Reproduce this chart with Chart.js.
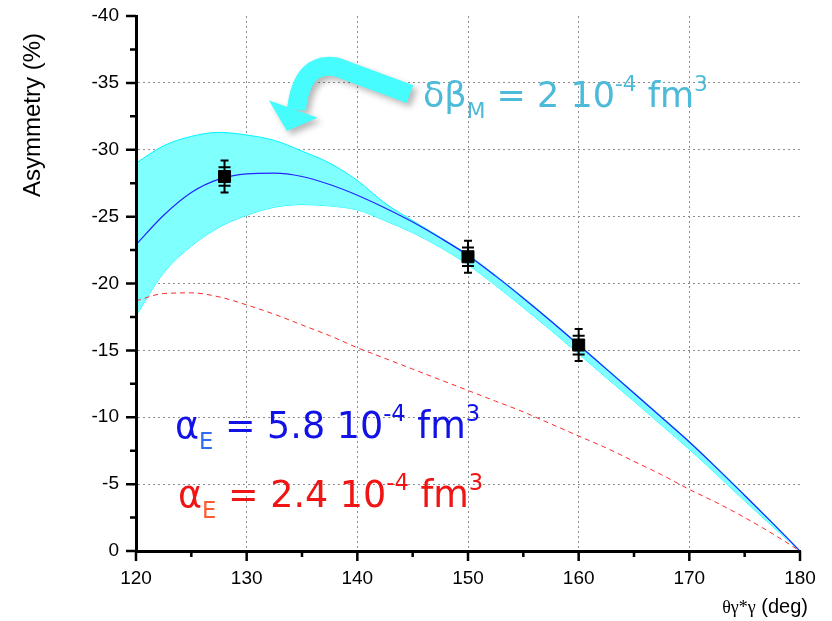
<!DOCTYPE html>
<html>
<head>
<meta charset="utf-8">
<script src="https://cdn.jsdelivr.net/npm/chart.js@4.4.1/dist/chart.umd.min.js"></script>
<style>
  html, body { margin: 0; padding: 0; background: #fff; }
</style>
</head>
<body>
<canvas id="chart" width="832" height="621"></canvas>
<script>
// curve abscissa (deg)
const angles = [120, 122.5, 125, 127.5, 130, 132.5, 135, 137.5, 140, 142.5, 145, 147.5,
  150, 152.5, 155, 157.5, 160, 162.5, 165, 167.5, 170, 172.5, 175, 177.5, 180]

// alpha_E = 5.8 fit
const fitHigh = [-22.9, -25.1, -26.8, -27.8, -28.2, -28.25, -28.0, -27.4, -26.6, -25.65, -24.6, -23.4,
  -22.1, -20.55, -18.9, -17.18, -15.4, -13.6, -11.8, -9.98, -8.15, -6.18, -4.15, -2.1, 0]

// alpha_E = 2.4 fit
const fitLow = [-18.7, -19.25, -19.3, -19.0, -18.4, -17.7, -16.9, -16.1, -15.2, -14.4, -13.6, -12.8,
  -12.0, -11.2, -10.4, -9.5, -8.6, -7.7, -6.7, -5.7, -4.6, -3.6, -2.5, -1.3, 0]

// delta beta_M band
const bandUpper = [-29.0, -30.3, -31.0, -31.3, -31.1, -30.7, -29.9, -29.0, -27.7, -26.0, -24.7, -23.45,
  -22.15, -20.6, -18.95, -17.23, -15.45, -13.65, -11.85, -10.03, -8.2, -6.23, -4.2, -2.15, 0]
const bandLower = [-17.6, -20.8, -22.8, -24.2, -25.1, -25.7, -25.9, -25.8, -25.5, -24.7, -23.8, -22.7,
  -21.4, -19.85, -18.2, -16.5, -14.75, -12.95, -11.2, -9.4, -7.6, -5.7, -3.75, -1.85, 0]

// measured points
const dataAngles = [128, 150, 160]
const dataAsym = [-28.0, -22.0, -15.4]
const statErr = [0.7, 0.7, 0.7]
const totalErr = [1.2, 1.2, 1.2]

const xRange = [120, 180]
const yRange = [-40, 0]

const toPoints = (xs, ys) => xs.map((x, i) => ({ x, y: ys[i] }))

const gridColor = (edges) => (c) =>
  c.tick && edges.includes(c.tick.value) ? 'rgba(0,0,0,0)' : '#8c8c8c'

const tickFont = { family: 'Liberation Sans', size: 19 }

// rich text: parts of { t, color, mode: 'sub' | 'sup' }
function drawRich(ctx, x, y, parts, size, family) {
  let cx = x
  parts.forEach((p) => {
    const s = p.mode ? size * 0.62 : size
    const dy = p.mode === 'sub' ? size * 0.3 : p.mode === 'sup' ? -size * 0.45 : 0
    ctx.font = `${s}px ${family}`
    ctx.fillStyle = p.color
    ctx.fillText(p.t, cx, y + dy)
    cx += ctx.measureText(p.t).width
  })
}

const decorations = {
  id: 'decorations',
  afterDraw(chart) {
    const { ctx, scales: { x, y } } = chart
    const P = (a, b) => [x.getPixelForValue(a), y.getPixelForValue(b)]
    ctx.save()

    // axis tick marks (major + minor)
    ctx.strokeStyle = '#000'
    ctx.lineWidth = 2.5
    ctx.beginPath()
    for (let v = xRange[0]; v <= xRange[1]; v += 5) {
      const px = x.getPixelForValue(v)
      const len = v % 10 === 0 ? 10 : 6
      ctx.moveTo(px, y.bottom)
      ctx.lineTo(px, y.bottom + len)
    }
    for (let v = yRange[0]; v <= yRange[1]; v += 2.5) {
      const py = y.getPixelForValue(v)
      const len = v % 5 === 0 ? 10 : 6
      ctx.moveTo(x.left, py)
      ctx.lineTo(x.left - len, py)
    }
    ctx.stroke()

    // error bars
    ctx.lineWidth = 2
    dataAngles.forEach((a, i) => {
      const px = x.getPixelForValue(a)
      const yt = y.getPixelForValue(dataAsym[i] - totalErr[i])
      const yb = y.getPixelForValue(dataAsym[i] + totalErr[i])
      const st = y.getPixelForValue(dataAsym[i] - statErr[i])
      const sb = y.getPixelForValue(dataAsym[i] + statErr[i])
      ctx.beginPath()
      ctx.moveTo(px, yt); ctx.lineTo(px, yb)
      ctx.moveTo(px - 4, yt); ctx.lineTo(px + 4, yt)
      ctx.moveTo(px - 4, yb); ctx.lineTo(px + 4, yb)
      ctx.moveTo(px - 6, st); ctx.lineTo(px + 6, st)
      ctx.moveTo(px - 6, sb); ctx.lineTo(px + 6, sb)
      ctx.stroke()
    })

    // curved arrow
    const shaft = [P(144.76, -34.16), P(138.16, -36.18), P(135.0, -36.7), P(134.5, -33.0)]
    const head = [P(132.0, -33.7), P(133.64, -31.4), P(136.4, -32.4)]
    const arrow = (color) => {
      ctx.strokeStyle = color
      ctx.fillStyle = color
      ctx.lineWidth = 19
      ctx.lineJoin = 'round'
      ctx.beginPath()
      ctx.moveTo(...shaft[0])
      ctx.lineTo(...shaft[1])
      ctx.quadraticCurveTo(...shaft[2], ...shaft[3])
      ctx.stroke()
      ctx.beginPath()
      ctx.moveTo(...head[0]); ctx.lineTo(...head[1]); ctx.lineTo(...head[2])
      ctx.closePath()
      ctx.fill()
    }
    ctx.save()
    ctx.translate(4, 4)
    ctx.filter = 'blur(3px)'
    arrow('rgba(0,0,0,0.28)')
    ctx.restore()
    arrow('#46fcfc')

    // annotations
    const fam = "'DejaVu Sans'"
    ctx.textBaseline = 'alphabetic'
    ctx.textAlign = 'left'
    const cyan = '#4cbad8'
    drawRich(ctx, ...P(145.93, -33.18), [
      { t: 'δβ', color: cyan }, { t: 'M', color: cyan, mode: 'sub' },
      { t: ' = 2 10', color: cyan }, { t: '-4', color: cyan, mode: 'sup' },
      { t: ' fm', color: cyan }, { t: '3', color: cyan, mode: 'sup' },
    ], 35, fam)
    const blue = '#1212e6'
    drawRich(ctx, ...P(123.52, -8.46), [
      { t: 'α', color: blue }, { t: 'E', color: '#2f6cf2', mode: 'sub' },
      { t: ' = 5.8 10', color: blue }, { t: '-4', color: blue, mode: 'sup' },
      { t: ' fm', color: blue }, { t: '3', color: blue, mode: 'sup' },
    ], 36.5, fam)
    const red = '#f01414'
    drawRich(ctx, ...P(123.8, -3.3), [
      { t: 'α', color: red }, { t: 'E', color: '#ff5a30', mode: 'sub' },
      { t: ' = 2.4 10', color: red }, { t: '-4', color: red, mode: 'sup' },
      { t: ' fm', color: red }, { t: '3', color: red, mode: 'sup' },
    ], 36.5, fam)

    // axis titles
    ctx.fillStyle = '#000'
    ctx.textAlign = 'right'
    ctx.font = "20px 'Liberation Sans'"
    ctx.fillText(' (deg)', 808, 613)
    const w = ctx.measureText(' (deg)').width
    ctx.font = "18px 'Liberation Serif'"
    ctx.fillText('θγ*γ', 808 - w, 613)

    ctx.translate(40, 115)
    ctx.rotate(-Math.PI / 2)
    ctx.textAlign = 'center'
    ctx.font = "24px 'Liberation Sans'"
    ctx.fillText('Asymmetry (%)', 0, 0)
    ctx.restore()
  },
}

new Chart(document.getElementById('chart'), {
  type: 'scatter',
  data: {
    datasets: [
      {
        type: 'line',
        label: 'band upper',
        data: toPoints(angles, bandUpper),
        borderColor: '#00f4ff',
        borderWidth: 1,
        backgroundColor: '#80ffff',
        fill: '+1',
        pointRadius: 0,
        cubicInterpolationMode: 'monotone',
        order: 4,
      },
      {
        type: 'line',
        label: 'band lower',
        data: toPoints(angles, bandLower),
        borderColor: '#00f4ff',
        borderWidth: 1,
        fill: false,
        pointRadius: 0,
        cubicInterpolationMode: 'monotone',
        order: 4,
      },
      {
        type: 'line',
        label: 'alphaE 2.4',
        data: toPoints(angles, fitLow),
        borderColor: '#ff2a2a',
        borderWidth: 1,
        borderDash: [5, 4],
        fill: false,
        pointRadius: 0,
        cubicInterpolationMode: 'monotone',
        order: 3,
      },
      {
        type: 'line',
        label: 'alphaE 5.8',
        data: toPoints(angles, fitHigh),
        borderColor: '#2424ff',
        borderWidth: 1.2,
        fill: false,
        pointRadius: 0,
        cubicInterpolationMode: 'monotone',
        order: 2,
      },
      {
        label: 'data',
        data: toPoints(dataAngles, dataAsym),
        pointStyle: 'rect',
        pointRadius: 8.5,
        backgroundColor: '#000',
        borderColor: '#000',
        order: 1,
      },
    ],
  },
  options: {
    responsive: false,
    animation: false,
    layout: { padding: { left: 0, top: 16, right: 32, bottom: 0 } },
    plugins: { legend: { display: false }, tooltip: { enabled: false } },
    scales: {
      x: {
        type: 'linear',
        min: xRange[0],
        max: xRange[1],
        afterFit: (scale) => { scale.height = 70 },
        ticks: { stepSize: 10, color: '#000', font: tickFont, padding: 16, maxRotation: 0 },
        grid: { drawTicks: false, color: gridColor(xRange), lineWidth: 1 },
        border: { display: true, color: '#000', width: 3, dash: [2, 3], z: 1 },
      },
      y: {
        type: 'linear',
        min: yRange[0],
        max: yRange[1],
        reverse: true,
        afterFit: (scale) => {
          scale.width = 136
          scale.paddingTop = 0
          scale.paddingBottom = 0
        },
        ticks: { stepSize: 5, color: '#000', font: tickFont, padding: 17 },
        grid: { drawTicks: false, color: gridColor(yRange), lineWidth: 1 },
        border: { display: true, color: '#000', width: 3, dash: [2, 3], z: 1 },
      },
    },
  },
  plugins: [decorations],
})
</script>
</body>
</html>
